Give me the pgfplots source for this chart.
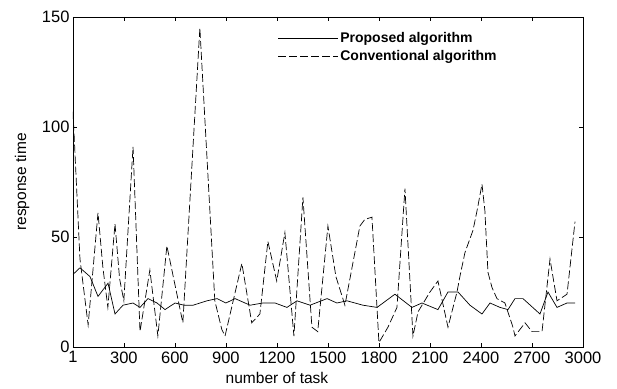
\documentclass[border=0pt]{standalone}
\usepackage{pgfplots}
\pgfplotsset{compat=1.18}
\usepackage{fontspec}
\setmainfont{Liberation Sans}
\begin{document}
\begin{tikzpicture}
\useasboundingbox (-73pt,-41pt) rectangle (544pt,347pt);
\begin{axis}[
  at={(0pt,0pt)}, anchor=south west,
  scale only axis, width=510pt, height=330pt,
  xmin=1, xmax=3000, ymin=0, ymax=150,
  xtick={1,300,600,900,1200,1500,1800,2100,2400,2700,3000},
  ytick={0,50,100,150},
  scaled x ticks=false,
  tick align=inside, major tick length=4pt,
  tick style={black, line width=0.6pt},
  axis line style={line width=0.8pt},
  /pgf/number format/1000 sep={},
  /pgf/number format/assume math mode=true,
  ticklabel style={font=\fontsize{16.5}{18}\selectfont},
  xticklabel style={yshift=-1pt},
  xlabel={number of task}, ylabel={response time},
  label style={font=\fontsize{15.5}{17}\selectfont},
  xlabel style={at={(axis description cs:0.4,0)}, anchor=center, yshift=-31pt},
  ylabel style={at={(axis description cs:-0.1,0.5)}, anchor=center},
  legend cell align=left,
  legend style={draw=none, fill=none, at={(0.395,0.965)}, anchor=north west,
    font=\fontsize{14}{16}\selectfont\bfseries, row sep=2pt,
    legend image code/.code={\draw[#1] (0pt,0pt) -- (48pt,0pt); \path (0pt,0pt) -- (60pt,0pt);}},
]
\addplot[black, line width=0.7pt] coordinates {
(1,33) (42,36) (101,32) (148,23) (207,29) (248,15) (295,19) (354,20)
(395,18) (442,22) (495,20) (542,17) (601,20) (654,19) (707,19) (789,21)
(848,22) (900,20) (954,22) (1042,19) (1118,20) (1189,20) (1259,18)
(1318,21) (1395,19) (1495,22) (1553,20) (1612,21) (1706,19) (1789,18)
(1894,24) (1994,18) (2053,20) (2147,17) (2206,25) (2265,25) (2335,19)
(2406,15) (2453,20) (2512,18) (2559,17) (2600,22) (2647,22) (2747,15)
(2794,25) (2847,18) (2906,20) (2953,20)
};
\addlegendentry{Proposed algorithm}
\addplot[black, line width=0.7pt, dash pattern=on 8pt off 3pt] coordinates {
(1,107) (42,40) (90,10) (148,61) (177,36) (206,18) (248,56) (275,31)
(300,21) (354,91) (395,7) (453,35) (500,5) (553,46) (647,11) (747,145)
(835,21) (876,8) (895,5) (994,38) (1052,11) (1100,15) (1147,48) (1199,30)
(1247,52) (1300,5) (1353,68) (1406,9) (1440,7) (1500,55) (1547,32)
(1600,19) (1688,55) (1717,58) (1759,59) (1800,2) (1853,9) (1906,18)
(1953,72) (2000,5) (2030,16) (2100,25) (2147,30) (2206,9) (2259,25)
(2276,32) (2306,43) (2353,53) (2377,62) (2406,74) (2423,62) (2441,34)
(2465,27) (2494,22) (2541,20) (2588,9) (2600,5) (2659,11) (2700,7)
(2759,7) (2806,40) (2847,21) (2906,24) (2953,57)
};
\addlegendentry{Conventional algorithm}
\end{axis}
\end{tikzpicture}
\end{document}
